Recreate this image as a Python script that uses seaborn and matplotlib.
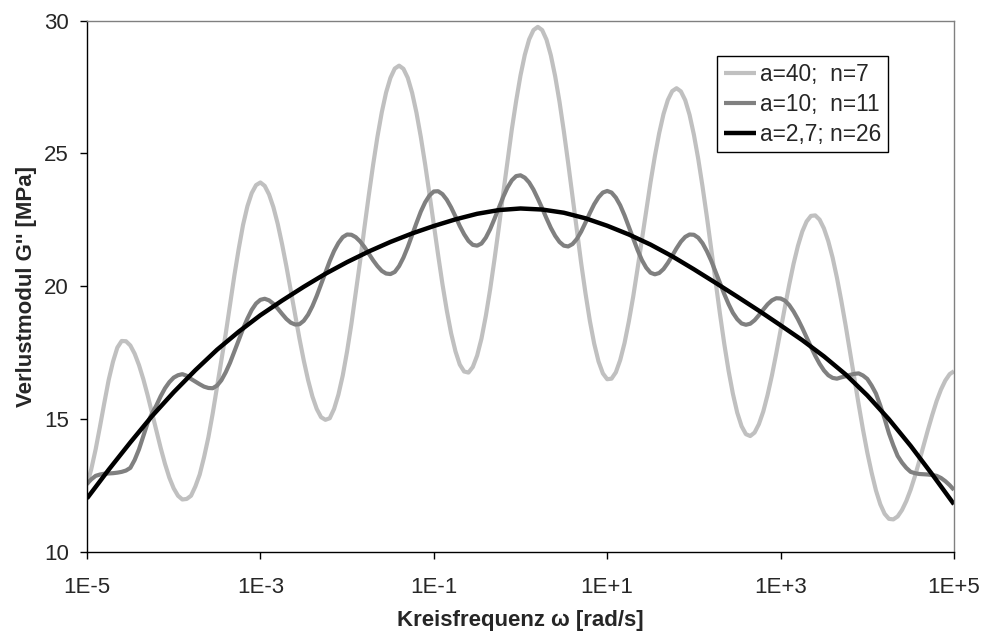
import numpy as np
import pandas as pd
import matplotlib
matplotlib.use("Agg")
import matplotlib.pyplot as plt
from matplotlib.ticker import NullLocator
import seaborn as sns

# Sampled angular frequencies, given as decades (log10 of omega in rad/s)
log_omega_fine = np.linspace(-5.0, 5.0, 201)
log_omega_black = np.linspace(-5.0, 5.0, 41)

# Loss modulus G'' [MPa] for the three discrete relaxation spectra
g2_a40_n7 = [
    12.50, 13.11, 13.85, 14.71, 15.60, 16.46, 17.15, 17.68, 17.93, 17.92,
    17.76, 17.45, 17.02, 16.49, 15.88, 15.22, 14.55, 13.90, 13.30, 12.78,
    12.38, 12.10, 11.96, 11.98, 12.10, 12.45, 12.90, 13.55, 14.30, 15.20,
    16.20, 17.20, 18.20, 19.30, 20.40, 21.40, 22.30, 23.00, 23.50, 23.80,
    23.90, 23.77, 23.45, 22.97, 22.34, 21.58, 20.74, 19.83, 18.92, 18.03,
    17.20, 16.46, 15.84, 15.37, 15.06, 14.96, 15.02, 15.37, 15.91, 16.63,
    17.54, 18.58, 19.74, 20.93, 22.20, 23.41, 24.56, 25.62, 26.54, 27.29,
    27.84, 28.19, 28.30, 28.18, 27.84, 27.28, 26.53, 25.62, 24.59, 23.47,
    22.31, 21.17, 20.07, 19.08, 18.22, 17.54, 17.04, 16.78, 16.74, 16.95,
    17.38, 18.02, 18.87, 19.87, 21.00, 22.20, 23.47, 24.70, 25.90, 26.97,
    27.93, 28.71, 29.29, 29.64, 29.76, 29.64, 29.28, 28.69, 27.90, 26.94,
    25.83, 24.63, 23.37, 22.10, 20.86, 19.72, 18.69, 17.83, 17.16, 16.71,
    16.49, 16.51, 16.75, 17.21, 17.85, 18.67, 19.60, 20.65, 21.74, 22.84,
    23.91, 24.89, 25.76, 26.48, 27.01, 27.34, 27.45, 27.33, 27.00, 26.45,
    25.70, 24.79, 23.74, 22.60, 21.39, 20.16, 18.97, 17.83, 16.81, 15.94,
    15.23, 14.72, 14.42, 14.35, 14.48, 14.80, 15.27, 15.90, 16.63, 17.46,
    18.34, 19.21, 20.06, 20.84, 21.51, 22.05, 22.43, 22.64, 22.66, 22.50,
    22.17, 21.69, 21.07, 20.31, 19.45, 18.52, 17.53, 16.53, 15.55, 14.60,
    13.73, 12.97, 12.30, 11.78, 11.42, 11.23, 11.21, 11.32, 11.56, 11.90,
    12.33, 12.84, 13.41, 14.00, 14.59, 15.15, 15.67, 16.10, 16.44, 16.68,
    16.79,
]
g2_a10_n11 = [
    12.55, 12.72, 12.85, 12.90, 12.93, 12.94, 12.95, 12.97, 13.00, 13.05,
    13.15, 13.45, 13.85, 14.35, 14.85, 15.20, 15.50, 15.85, 16.15, 16.38,
    16.55, 16.64, 16.68, 16.62, 16.50, 16.40, 16.30, 16.21, 16.16, 16.15,
    16.25, 16.45, 16.75, 17.11, 17.53, 17.96, 18.39, 18.77, 19.10, 19.34,
    19.48, 19.52, 19.46, 19.33, 19.15, 18.95, 18.76, 18.62, 18.55, 18.56,
    18.69, 18.92, 19.24, 19.63, 20.07, 20.51, 20.94, 21.32, 21.62, 21.84,
    21.94, 21.93, 21.84, 21.68, 21.47, 21.22, 20.97, 20.75, 20.57, 20.47,
    20.45, 20.53, 20.75, 21.07, 21.47, 21.92, 22.37, 22.80, 23.15, 23.41,
    23.56, 23.57, 23.46, 23.25, 22.96, 22.62, 22.26, 21.95, 21.70, 21.55,
    21.52, 21.60, 21.82, 22.14, 22.53, 22.94, 23.35, 23.71, 23.98, 24.14,
    24.17, 24.08, 23.90, 23.63, 23.29, 22.93, 22.55, 22.19, 21.89, 21.66,
    21.52, 21.49, 21.58, 21.77, 22.05, 22.39, 22.75, 23.08, 23.34, 23.52,
    23.58, 23.52, 23.33, 23.04, 22.66, 22.23, 21.79, 21.36, 20.98, 20.69,
    20.50, 20.44, 20.49, 20.64, 20.87, 21.14, 21.42, 21.67, 21.85, 21.94,
    21.93, 21.82, 21.61, 21.31, 20.95, 20.54, 20.12, 19.70, 19.32, 18.99,
    18.75, 18.59, 18.54, 18.58, 18.71, 18.90, 19.11, 19.31, 19.46, 19.54,
    19.53, 19.45, 19.28, 19.04, 18.75, 18.42, 18.06, 17.71, 17.37, 17.07,
    16.82, 16.64, 16.54, 16.51, 16.56, 16.60, 16.65, 16.69, 16.71, 16.63,
    16.50, 16.25, 15.95, 15.50, 15.00, 14.45, 14.00, 13.60, 13.35, 13.15,
    13.00, 12.95, 12.92, 12.91, 12.90, 12.88, 12.85, 12.77, 12.65, 12.50,
    12.32,
]
g2_a27_n26 = [
    12.00, 13.08, 14.11, 15.10, 16.00, 16.83, 17.60, 18.28, 18.90, 19.45,
    19.97, 20.46, 20.90, 21.30, 21.66, 21.98, 22.26, 22.51, 22.72, 22.86,
    22.92, 22.88, 22.76, 22.55, 22.27, 21.94, 21.56, 21.12, 20.63, 20.12,
    19.60, 19.07, 18.52, 17.96, 17.35, 16.67, 15.88, 14.98, 13.98, 12.90,
    11.78,
]

series_labels = ["a=40;  n=7", "a=10;  n=11", "a=2,7; n=26"]
series_colors = ["#C0C0C0", "#808080", "#000000"]
series_widths = [3.0, 3.0, 3.2]

x_ticks = [1e-5, 1e-3, 1e-1, 1e1, 1e3, 1e5]
x_tick_labels = ["1E-5", "1E-3", "1E-1", "1E+1", "1E+3", "1E+5"]
y_ticks = [10, 15, 20, 25, 30]

sns.set_theme(style="white")
plt.rcParams["font.family"] = ["Liberation Sans", "DejaVu Sans"]

frames = [
    pd.DataFrame({"omega": 10.0 ** log_omega_fine, "G2": g2_a40_n7}),
    pd.DataFrame({"omega": 10.0 ** log_omega_fine, "G2": g2_a10_n11}),
    pd.DataFrame({"omega": 10.0 ** log_omega_black, "G2": g2_a27_n26}),
]

fig = plt.figure(figsize=(9.84, 6.37), dpi=100)
ax = fig.add_axes([0.0884, 0.1342, 0.8811, 0.8336])

for df, lab, col, lw in zip(frames, series_labels, series_colors, series_widths):
    sns.lineplot(data=df, x="omega", y="G2", ax=ax, color=col, linewidth=lw,
                 label=lab, estimator=None, sort=False,
                 solid_joinstyle="round", solid_capstyle="butt")

ax.set_xscale("log")
ax.set_xlim(1e-5, 1e5)
ax.set_ylim(10, 30)
ax.set_xticks(x_ticks)
ax.set_xticklabels(x_tick_labels)
ax.xaxis.set_minor_locator(NullLocator())
ax.set_yticks(y_ticks)

for side in ("left", "bottom"):
    ax.spines[side].set_color("#000000")
    ax.spines[side].set_linewidth(1.0)
for side in ("top", "right"):
    ax.spines[side].set_color("#808080")
    ax.spines[side].set_linewidth(1.0)

ax.tick_params(axis="x", which="major", direction="out", length=5, width=1,
               color="black", labelsize=16, pad=13, bottom=True, top=False)
ax.tick_params(axis="y", which="major", direction="out", length=5, width=1,
               color="black", labelsize=16, pad=8, left=True, right=False)

ax.set_xlabel("Kreisfrequenz ω [rad/s]", fontsize=16, fontweight="bold", labelpad=9)
ax.set_ylabel("Verlustmodul G'' [MPa]", fontsize=16, fontweight="bold", labelpad=5)

leg = ax.legend(loc="upper left", bbox_to_anchor=(0.7266, 0.933), borderaxespad=0,
                fontsize=16.4, frameon=True, fancybox=False, framealpha=1,
                edgecolor="black", handlelength=1.4, handletextpad=0.2,
                labelspacing=0.3, borderpad=0.3)
leg.get_frame().set_linewidth(1.0)

fig.savefig("out.png", dpi=100, facecolor="white")
